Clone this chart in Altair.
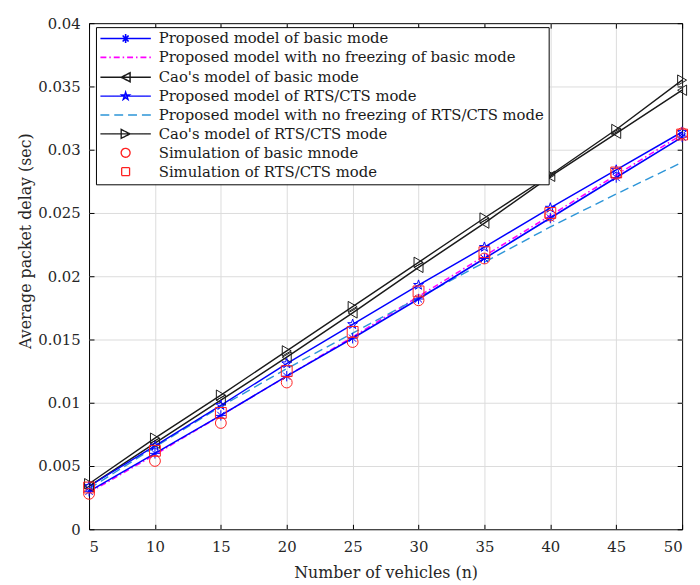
import json
import altair as alt
import pandas as pd

# ---------------- data ----------------
n_vehicles = [5, 10, 15, 20, 25, 30, 35, 40, 45, 50]

series_names = [
    "Proposed model of basic mode",
    "Proposed model with no freezing of basic mode",
    "Cao's model of basic mode",
    "Proposed model of RTS/CTS mode",
    "Proposed model with no freezing of RTS/CTS mode",
    "Cao's model of RTS/CTS mode",
    "Simulation of basic mnode",
    "Simulation of RTS/CTS mode",
]

proposed_basic = [0.0030, 0.0060, 0.0090, 0.0121, 0.0151, 0.0182, 0.0214, 0.0246, 0.0278, 0.0310]
nofreeze_basic = [0.0029, 0.0059, 0.0090, 0.0121, 0.0152, 0.0184, 0.0216, 0.0248, 0.0280, 0.0312]
cao_basic = [0.0034, 0.0068, 0.0102, 0.0136, 0.0171, 0.0207, 0.0242, 0.0279, 0.0313, 0.0347]
proposed_rts = [0.0034, 0.0066, 0.0098, 0.0131, 0.0162, 0.0193, 0.0223, 0.0254, 0.0284, 0.0314]
nofreeze_rts = [0.0032, 0.0065, 0.0097, 0.0127, 0.0155, 0.0183, 0.0211, 0.0239, 0.0265, 0.0290]
cao_rts = [0.0036, 0.0072, 0.0106, 0.0141, 0.0176, 0.0211, 0.0246, 0.0280, 0.0316, 0.0355]
sim_basic = [0.0028, 0.0054, 0.0084, 0.0116, 0.0148, 0.0181, 0.0214, 0.0248, 0.0281, 0.0313]
sim_rts = [0.0033, 0.0062, 0.0092, 0.0125, 0.0156, 0.0188, 0.0219, 0.0250, 0.0282, 0.0312]

series_values = [proposed_basic, nofreeze_basic, cao_basic, proposed_rts,
                 nofreeze_rts, cao_rts, sim_basic, sim_rts]

x_ticks = [5, 10, 15, 20, 25, 30, 35, 40, 45, 50]
y_ticks = [0, 0.005, 0.01, 0.015, 0.02, 0.025, 0.03, 0.035, 0.04]

# ---------------- styles ----------------
colors = ["#0000ff", "#ff00ff", "#1a1a1a", "#0000ff", "#2d95d8", "#1a1a1a", "#ff2020", "#ff2020"]
line_widths = [1.6, 1.3, 1.0, 1.6, 1.3, 1.0, 1.0, 1.0]

asterisk = "M0,-1V1M-1,0H1M-0.7,-0.7L0.7,0.7M-0.7,0.7L0.7,-0.7"
star = ("M0,-1L0.225,-0.309L0.951,-0.309L0.363,0.118L0.588,0.809L0,0.382"
        "L-0.588,0.809L-0.363,0.118L-0.951,-0.309L-0.225,-0.309Z")

rows = []
for name, vals in zip(series_names, series_values):
    for n, v in zip(n_vehicles, vals):
        rows.append({"n": n, "series": name, "delay": v})
df = pd.DataFrame(rows)

solid_series = [series_names[0], series_names[2], series_names[3], series_names[5]]
dashed_series = [series_names[1], series_names[4]]
model_marker_series = [series_names[0], series_names[2], series_names[3], series_names[5]]
sim_series = [series_names[6], series_names[7]]

marker_domain = model_marker_series + sim_series
marker_range = [asterisk, "triangle-left", star, "triangle-right", "circle", "square"]

# legend symbols (units of 5 px, symbolSize = 100)
L = "M-5.1,0H5.1"
legend_paths = [
    L + "M0,-0.9V0.9M-0.6,-0.6L0.6,0.6M-0.6,0.6L0.6,-0.6",
    L,
    L + "M-0.9,0L0.9,-0.9L0.9,0.9Z",
    L + "M0,-0.8L0.18,-0.25L0.76,-0.25L0.29,0.09L0.47,0.65L0,0.31L-0.47,0.65L-0.29,0.09L-0.76,-0.25L-0.18,-0.25Z",
    L,
    L + "M0.9,0L-0.9,-0.9L-0.9,0.9Z",
    "M0.9,0A0.9,0.9,0,1,1,-0.9,0A0.9,0.9,0,1,1,0.9,0Z",
    "M-0.8,-0.8H0.8V0.8H-0.8Z",
]
legend_dash = [[1, 0], [6, 3, 1.5, 3], [1, 0], [1, 0], [9, 5], [1, 0], [1, 0], [1, 0]]
idx = f"indexof({json.dumps(series_names)}, datum.value)"

legend = alt.Legend(
    title=None, orient="none", legendX=7, legendY=4,
    strokeColor="black", fillColor="white", padding=4,
    symbolSize=100, symbolStrokeWidth=1.4, symbolOffset=18.5, labelOffset=26,
    symbolType=alt.ExprRef(expr=f"{json.dumps(legend_paths)}[{idx}]"),
    symbolDash=alt.ExprRef(expr=f"{json.dumps(legend_dash)}[{idx}]"),
    symbolFillColor="transparent",
    rowPadding=3.1, labelFont="DejaVu Serif", labelFontSize=15, labelColor="#1a1a1a",
    labelLimit=1000,
)

xscale = alt.Scale(domain=[5, 50], nice=False, zero=False)
yscale = alt.Scale(domain=[0, 0.04], nice=False)
color_scale = alt.Scale(domain=series_names, range=colors)
width_scale = alt.Scale(domain=series_names, range=line_widths)
color_enc = alt.Color("series:N", scale=color_scale, legend=legend)

base = alt.Chart(df)

# grid layer: dashed model curves
dashed = base.transform_filter(
    alt.FieldOneOfPredicate(field="series", oneOf=dashed_series)
).mark_line().encode(
    x=alt.X("n:Q", scale=xscale, axis=alt.Axis(
        orient="bottom", values=x_ticks[1:-1], grid=True, ticks=False, labels=False,
        domain=False, title=None, gridColor="#dcdcdc", gridWidth=1)),
    y=alt.Y("delay:Q", scale=yscale, axis=alt.Axis(
        orient="left", values=y_ticks[1:-1], grid=True, ticks=False, labels=False,
        domain=False, title=None, gridColor="#dcdcdc", gridWidth=1)),
    color=color_enc,
    strokeWidth=alt.StrokeWidth("series:N", scale=width_scale, legend=None),
    strokeDash=alt.StrokeDash("series:N", scale=alt.Scale(
        domain=dashed_series, range=[[6, 3, 1.5, 3], [9, 5]]), legend=None),
)

# label layer: solid model curves
solid = base.transform_filter(
    alt.FieldOneOfPredicate(field="series", oneOf=solid_series)
).mark_line().encode(
    x=alt.X("n:Q", scale=xscale, axis=alt.Axis(
        orient="bottom", values=x_ticks, grid=False, ticks=False, domain=False,
        title="Number of vehicles (n)", labelPadding=10, titlePadding=11)),
    y=alt.Y("delay:Q", scale=yscale, axis=alt.Axis(
        orient="left", values=y_ticks, format="~g", grid=False, ticks=False,
        domain=False, title="Average packet delay (sec)", labelPadding=9,
        titlePadding=4, titleY=220)),
    color=color_enc,
    strokeWidth=alt.StrokeWidth("series:N", scale=width_scale, legend=None),
)

# model markers, carrying inward ticks bottom / left
model_pts = base.transform_filter(
    alt.FieldOneOfPredicate(field="series", oneOf=model_marker_series)
).mark_point(filled=False, strokeWidth=1, size=110, opacity=1).encode(
    x=alt.X("n:Q", scale=xscale, axis=alt.Axis(
        orient="bottom", values=x_ticks, grid=False, ticks=True, tickSize=5,
        tickColor="black", labels=False, domain=False, title=None, offset=-5)),
    y=alt.Y("delay:Q", scale=yscale, axis=alt.Axis(
        orient="left", values=y_ticks, grid=False, ticks=True, tickSize=5,
        tickColor="black", labels=False, domain=False, title=None, offset=-5)),
    color=color_enc,
    shape=alt.Shape("series:N", scale=alt.Scale(domain=marker_domain, range=marker_range),
                    legend=None),
)

# simulation markers, carrying inward ticks top / right
sim_pts = base.transform_filter(
    alt.FieldOneOfPredicate(field="series", oneOf=sim_series)
).mark_point(filled=False, strokeWidth=1, size=120, opacity=1).encode(
    x=alt.X("n:Q", scale=xscale, axis=alt.Axis(
        orient="top", values=x_ticks, grid=False, ticks=True, tickSize=5,
        tickColor="black", labels=False, domain=False, title=None, offset=-5)),
    y=alt.Y("delay:Q", scale=yscale, axis=alt.Axis(
        orient="right", values=y_ticks, grid=False, ticks=True, tickSize=5,
        tickColor="black", labels=False, domain=False, title=None, offset=-5)),
    color=color_enc,
    shape=alt.Shape("series:N", scale=alt.Scale(domain=marker_domain, range=marker_range),
                    legend=None),
)

chart = alt.layer(dashed, solid, model_pts, sim_pts).resolve_axis(
    x="independent", y="independent"
).properties(
    width=600, height=512,
    autosize=alt.AutoSizeParams(type="none"),
    padding={"left": 82, "top": 12, "right": 10, "bottom": 52},
    background="white",
).configure_view(
    stroke="black", strokeWidth=1, fill="white"
).configure_axis(
    labelFont="DejaVu Serif", labelFontSize=15, labelColor="#262626",
    titleFont="DejaVu Serif", titleFontSize=16, titleFontWeight="normal",
    titleColor="#262626",
)

chart.save("out.html", embed_options={"renderer": "svg", "actions": False})
